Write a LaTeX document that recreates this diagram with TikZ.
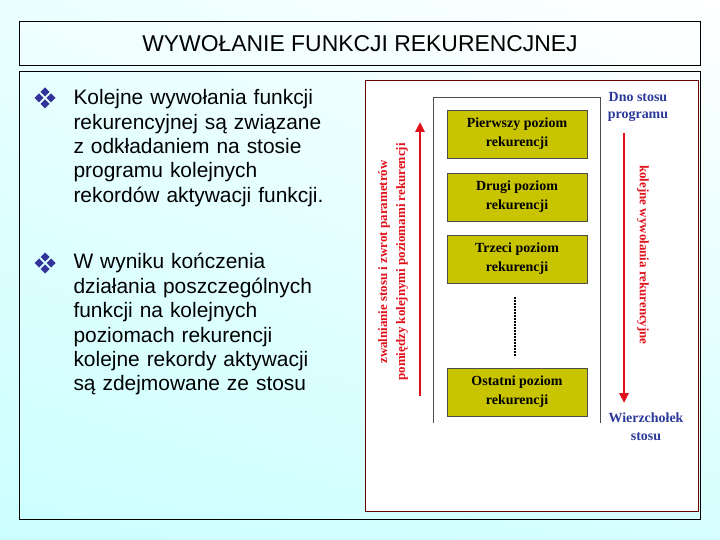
\documentclass[tikz,border=0pt]{standalone}
\usepackage{fontspec}
\setmainfont{Liberation Sans}
\newfontfamily\timesfont{Liberation Serif}
\usetikzlibrary{arrows.meta,positioning,calc,shadings}
\definecolor{bgcyan}{HTML}{CCFFFF}
\definecolor{levelfill}{HTML}{C8C400}
\definecolor{stackblue}{HTML}{2B3A9A}
\definecolor{bulletblue}{HTML}{333399}
\definecolor{arrowred}{HTML}{E0101A}
\tikzset{
  level/.style={rectangle, draw=black!70, fill=levelfill, minimum width=140bp, minimum height=48bp,
                align=center, font=\timesfont\bfseries\fontsize{14}{19}\selectfont},
  bodytext/.style={anchor=north west, align=left, text width=300bp,
                   font=\fontsize{21}{24.5}\selectfont},
  stacklabel/.style={text=stackblue, align=center, font=\timesfont\bfseries\fontsize{14}{18}\selectfont},
  sidetext/.style={text=arrowred, align=center, font=\timesfont\bfseries\fontsize{13}{18}\selectfont},
  redarrow/.style={-{Triangle[length=10bp,width=9bp]}, line width=2.5bp, arrowred},
}
\newcommand{\diamondbullet}[1]{%
  \foreach \dx/\dy in {0/-6,0/6,-6/0,6/0}
    \fill[bulletblue] ($(#1)+(\dx bp,\dy bp)$) +(0,-4.5bp) -- +(4.5bp,0) -- +(0,4.5bp) -- +(-4.5bp,0) -- cycle;}
\begin{document}
\begin{tikzpicture}[x=1bp, y=-1bp]
  \useasboundingbox (0,0) rectangle (720,540);
  \shade[upper left=bgcyan!40, upper right=white, lower left=bgcyan, lower right=bgcyan!80] (0,0) rectangle (720,540);

  % Title
  \draw[fill=white, fill opacity=0.3] (19,21) rectangle (700,65);
  \node[font=\fontsize{23}{26}\selectfont] (title) at (360,44) {WYWOŁANIE FUNKCJI REKURENCJNEJ};

  % Content frame
  \draw (19,71) rectangle (700,519);
  \draw[draw=black!60!red, fill=white] (365,80) rectangle (698,511);

  % Bullets
  \coordinate (b1) at (45,98);
  \coordinate (b2) at (45,263);
  \diamondbullet{b1}
  \diamondbullet{b2}
  \node[bodytext] (first) at (70,86) {Kolejne wywołania funkcji\\rekurencyjnej są związane\\z odkładaniem na stosie\\programu kolejnych\\rekordów aktywacji funkcji.};
  \node[bodytext] (second) at (70,250) {W wyniku kończenia\\działania poszczególnych\\funkcji na kolejnych\\poziomach rekurencji\\kolejne rekordy aktywacji\\są zdejmowane ze stosu};

  % Stack
  \draw[black!70] (433,423) -- (433,97) -- (600,97) -- (600,423);
  \node[level] (lev1) at (517,134) {Pierwszy poziom\\rekurencji};
  \node[level] (lev2) at (517,197) {Drugi poziom\\rekurencji};
  \node[level] (lev3) at (517,259) {Trzeci poziom\\rekurencji};
  \node[level] (lev4) at (517,392) {Ostatni poziom\\rekurencji};
  \coordinate (dotsfrom) at (515,297);
  \coordinate (dotsto) at (515,357);
  \draw[line width=2bp, dash pattern=on 1.5bp off 1.5bp] (dotsfrom) -- (dotsto);

  % Labels and arrows
  \node[stacklabel] (bottom) at (638,107) {Dno stosu\\programu};
  \node[stacklabel] (top) at (646,427) {Wierzchołek\\stosu};
  \coordinate (upfrom) at (420,396);
  \coordinate (upto) at (420,122);
  \coordinate (downfrom) at (624,133);
  \coordinate (downto) at (624,403);
  \draw[redarrow] (upfrom) -- (upto);
  \draw[redarrow] (downfrom) -- (downto);
  \node[sidetext, rotate=90] (unwind) at (393,262) {zwalnianie stosu i zwrot parametrów\\pomiędzy kolejnymi poziomami rekurencji};
  \node[sidetext, rotate=-90] (calls) at (643,255) {kolejne wywołania rekurencyjne};
\end{tikzpicture}
\end{document}
